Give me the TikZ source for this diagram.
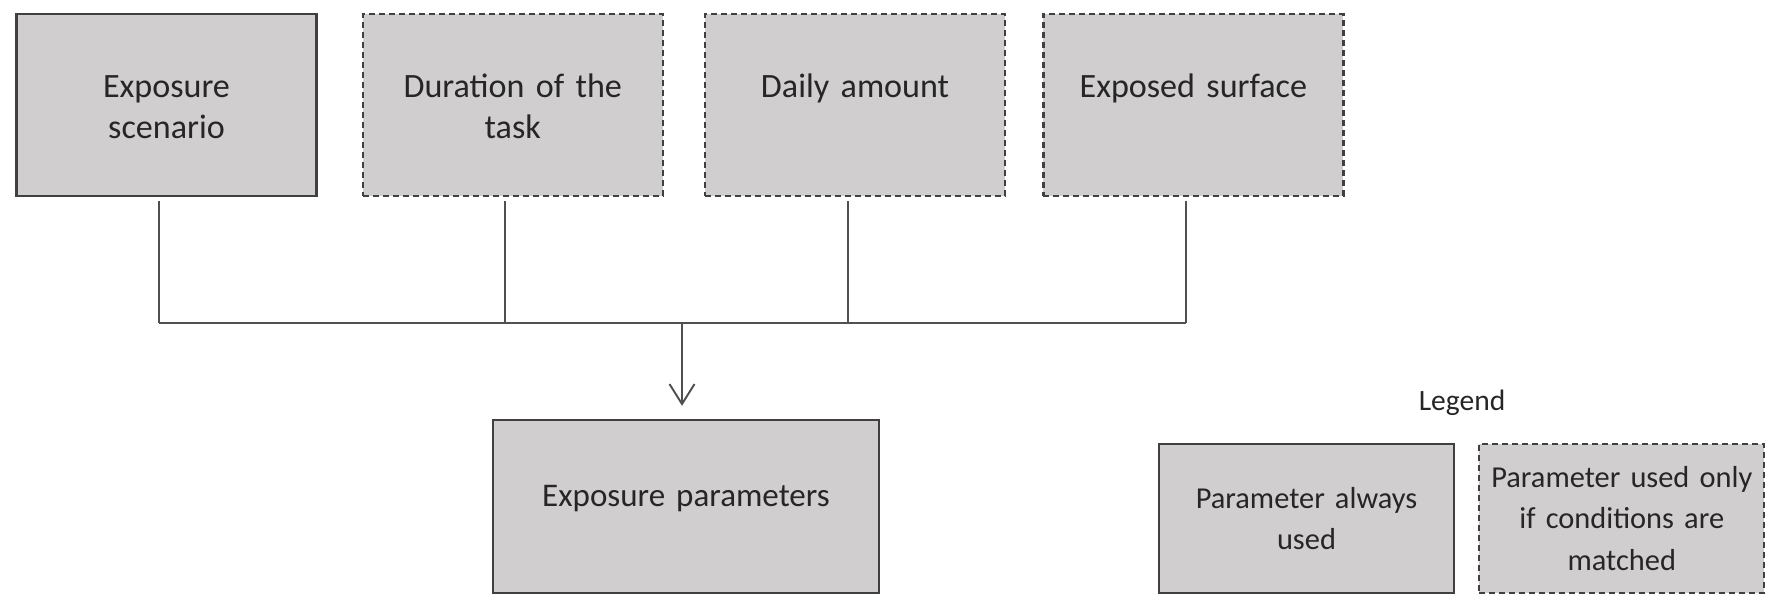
\documentclass[tikz,border=0pt]{standalone}
\usepackage{fontspec}
\setmainfont{Carlito}
\usepackage{tikz}
\usetikzlibrary{arrows.meta, positioning, calc}
\definecolor{boxfill}{HTML}{D0CECE}
\definecolor{boxline}{HTML}{404040}
\definecolor{linkline}{HTML}{505050}
\definecolor{txt}{HTML}{262626}

\begin{document}
\begin{tikzpicture}[
  param/.style={rectangle, draw=boxline, fill=boxfill, line width=1.3pt, text=txt, inner sep=0pt, align=center},
  cond/.style={param, dash pattern=on 0.12cm off 0.08cm},
  topbox/.style={minimum width=6cm, minimum height=3.64cm, text width=5.6cm, text height=1.68cm, text depth=1.96cm, font=\fontsize{19.4}{22.8}\selectfont},
  legbox/.style={minimum height=2.98cm, text width=5.4cm, font=\fontsize{17.3}{23.6}\selectfont},
  link/.style={draw=linkline, line width=1.1pt}
]
 \useasboundingbox (0,0) rectangle (35.44,-12.24);

 % Nodes
 \node[param, topbox] (scen) at (3.33,-2.1) {Exposure\\scenario};
 \node[cond, topbox, right=0.88cm of scen] (dur) {Duration of the\\task};
 \node[cond, topbox, right=0.8cm of dur] (daily) {Daily amount};
 \node[cond, topbox, right=0.72cm of daily] (surf) {Exposed surface};

 \node[param, minimum width=7.72cm, minimum height=3.46cm, text width=7cm, text height=1.72cm, text depth=1.74cm, font=\fontsize{18.8}{22}\selectfont] (expo) at (13.72,-10.13) {Exposure parameters};

 % Legend
 \node[text=txt, font=\fontsize{16.8}{20}\selectfont, anchor=base] (legend) at (29.24,-8.2) {Legend};
 \node[param, legbox, minimum width=5.9cm] (always) at (26.13,-10.37) {Parameter always\\used};
 \node[cond, legbox, minimum width=5.7cm, right=0.46cm of always] (only) {Parameter used only\\if conditions are\\matched};

 % Collecting lines
 \coordinate (bus) at (0,-6.46);
 \foreach \b in {scen,dur,daily,surf} {
   \coordinate (\b-top) at ([xshift=-0.15cm]\b.south);
   \coordinate (\b-bus) at (\b-top |- bus);
   \draw[link, shorten <=0.08cm] (\b-top) -- (\b-bus);
 }
 \draw[link] (scen-bus) -- (surf-bus);

 % Arrow to the result
 \coordinate (drop) at (expo.north |- bus);
 \draw[link, -{Straight Barb[length=0.4cm, width=0.5cm]}, shorten >=0.26cm] ([xshift=-0.08cm]drop) -- ([xshift=-0.08cm]expo.north);

\end{tikzpicture}
\end{document}
